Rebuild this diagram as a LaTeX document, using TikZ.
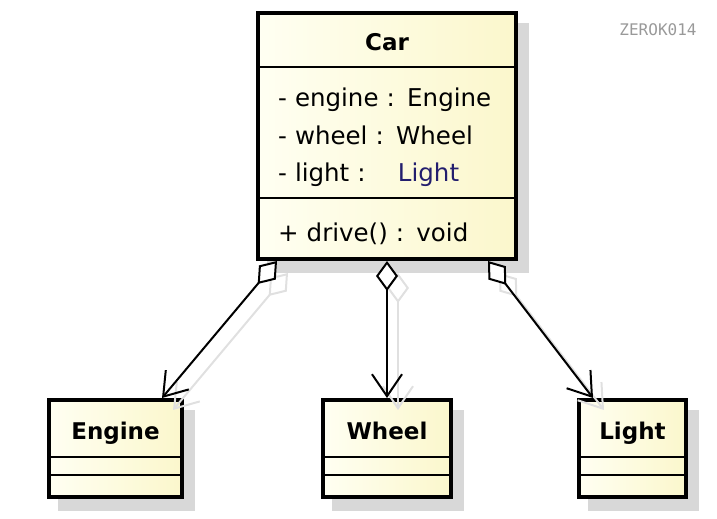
\documentclass[tikz,border=0pt]{standalone}
\usepackage{fontspec}
\setmainfont{DejaVu Sans}
\setmonofont{DejaVu Sans Mono}
\usetikzlibrary{
  	positioning,
  	arrows.meta,
  	calc,
  	fit,
  	backgrounds
  }
\definecolor{classlight}{RGB}{255,255,242}
\definecolor{classdark}{RGB}{251,247,204}
\definecolor{typeblue}{RGB}{35,30,110}
\definecolor{shadowgray}{RGB}{216,216,216}

\begin{document}
\begin{tikzpicture}[x=1pt, y=1pt,
    compart/.style={left color=classlight, right color=classdark, inner sep=0pt, outer sep=0pt},
    cname/.style={compart, font=\bfseries\fontsize{23}{23}\selectfont, text height=22pt, text depth=0pt},
    cmembers/.style={compart, text width=218pt, align=left, text height=29pt, font=\fontsize{24.5}{37.5}\selectfont},
    cframe/.style={draw, line width=4pt, inner sep=0pt},
    csep/.style={line width=2pt},
    agg/.style={line width=2pt, {Diamond[fill=white, length=30pt, width=22pt]}-{Straight Barb[length=22pt, width=30pt]}},
    aggshadow/.style={agg, draw=black!12}]
	\useasboundingbox (0,0) rectangle (717,519);
	\node[font=\ttfamily\fontsize{16}{16}\selectfont, text=black!40] (mark) at (658,489) {ZEROK014};
%
	\node[cname, minimum width=258pt, minimum height=54pt] (car) at (387,479) {Car};
	\node[cmembers, below=0pt of car, minimum width=258pt, minimum height=131pt] (car-attr)
		{- engine : Engine\\- wheel : Wheel\\- light : \hspace{20pt}\textcolor{typeblue}{Light}};
	\node[cmembers, below=0pt of car-attr, minimum width=258pt, minimum height=61pt] (car-ops) {+ drive() : void};
	\node[cframe, fit=(car)(car-ops)] (Car) {};
	\draw[csep] (car-attr.north west) -- (car-attr.north east);
	\draw[csep] (car-ops.north west) -- (car-ops.north east);
%
	\node[cname, minimum width=133pt, minimum height=57pt] (engine) at (115.5,90.5) {Engine};
	\node[compart, below=0pt of engine, minimum width=133pt, minimum height=18pt] (engine-attr) {};
	\node[compart, below=0pt of engine-attr, minimum width=133pt, minimum height=22pt] (engine-ops) {};
	\node[cframe, fit=(engine)(engine-ops)] (Engine) {};
	\draw[csep] (engine-attr.north west) -- (engine-attr.north east);
	\draw[csep] (engine-ops.north west) -- (engine-ops.north east);
%
	\node[cname, minimum width=128pt, minimum height=57pt] (wheel) at (387,90.5) {Wheel};
	\node[compart, below=0pt of wheel, minimum width=128pt, minimum height=18pt] (wheel-attr) {};
	\node[compart, below=0pt of wheel-attr, minimum width=128pt, minimum height=22pt] (wheel-ops) {};
	\node[cframe, fit=(wheel)(wheel-ops)] (Wheel) {};
	\draw[csep] (wheel-attr.north west) -- (wheel-attr.north east);
	\draw[csep] (wheel-ops.north west) -- (wheel-ops.north east);
%
	\node[cname, minimum width=107pt, minimum height=57pt] (light) at (632.5,90.5) {Light};
	\node[compart, below=0pt of light, minimum width=107pt, minimum height=18pt] (light-attr) {};
	\node[compart, below=0pt of light-attr, minimum width=107pt, minimum height=22pt] (light-ops) {};
	\node[cframe, fit=(light)(light-ops)] (Light) {};
	\draw[csep] (light-attr.north west) -- (light-attr.north east);
	\draw[csep] (light-ops.north west) -- (light-ops.north east);
%
	\begin{scope}[on background layer]
		\fill[shadowgray] ($(Car.south west)+(11,-12)$) rectangle ($(Car.north east)+(11,-12)$);
		\fill[shadowgray] ($(Engine.south west)+(11,-12)$) rectangle ($(Engine.north east)+(11,-12)$);
		\fill[shadowgray] ($(Wheel.south west)+(11,-12)$) rectangle ($(Wheel.north east)+(11,-12)$);
		\fill[shadowgray] ($(Light.south west)+(11,-12)$) rectangle ($(Light.north east)+(11,-12)$);
	\end{scope}
%
	\coordinate (ce) at ($(Car.south west)+(21,0)$);
	\coordinate (cw) at (Car.south);
	\coordinate (cl) at ($(Car.south east)+(-30,0)$);
	\coordinate (et) at ($(Engine.north east)+(-22,0)$);
	\coordinate (wt) at (Wheel.north);
	\coordinate (lt) at ($(Light.north west)+(16,0)$);
	\draw[aggshadow, transform canvas={shift={(11pt,-12pt)}}] (ce) -- (et);
	\draw[aggshadow, transform canvas={shift={(11pt,-12pt)}}] (cw) -- (wt);
	\draw[aggshadow, transform canvas={shift={(11pt,-12pt)}}] (cl) -- (lt);
	\draw[agg] (ce) -- (et);
	\draw[agg] (cw) -- (wt);
	\draw[agg] (cl) -- (lt);
\end{tikzpicture}
\end{document}
